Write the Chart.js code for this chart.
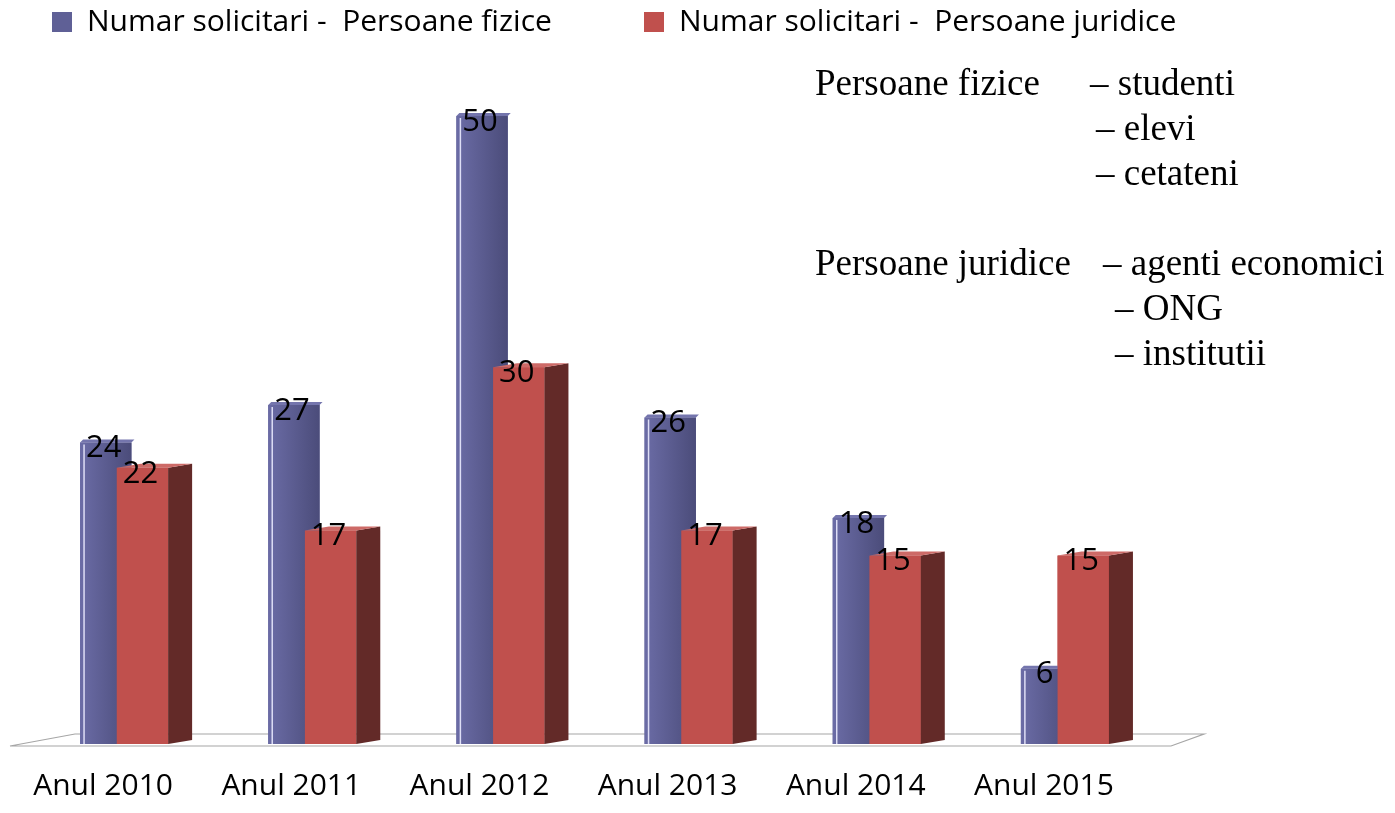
<!DOCTYPE html>
<html>
<head>
<meta charset="utf-8">
<script src="https://cdn.jsdelivr.net/npm/chart.js@4.4.0/dist/chart.umd.min.js"></script>
<style>
  html, body { margin: 0; padding: 0; background: #fff; }
  #wrap { position: relative; width: 1395px; height: 813px; }
  .note { position: absolute; font-family: "Liberation Serif", "Times New Roman", serif; font-size: 37px; line-height: 45px; color: #000; white-space: pre; }
</style>
</head>
<body>
<div id="wrap">
  <canvas id="chart" width="1395" height="813"></canvas>
  <div class="note" style="left:815px; top:60px;">Persoane fizice</div>
  <div class="note" style="left:1090px; top:60px;">– studenti</div>
  <div class="note" style="left:1096px; top:105px;">– elevi</div>
  <div class="note" style="left:1096px; top:150px;">– cetateni</div>
  <div class="note" style="left:815px; top:240px;">Persoane juridice</div>
  <div class="note" style="left:1103px; top:240px;">– agenti economici</div>
  <div class="note" style="left:1115px; top:285px;">– ONG</div>
  <div class="note" style="left:1115px; top:330px;">– institutii</div>
</div>
<script>
const years = ["Anul 2010", "Anul 2011", "Anul 2012", "Anul 2013", "Anul 2014", "Anul 2015"];
const fizice = [24, 27, 50, 26, 18, 6];
const juridice = [22, 17, 30, 17, 15, 15];
const seriesNames = ["Numar solicitari -  Persoane fizice", "Numar solicitari -  Persoane juridice"];

const FONT = "'Open Sans', 'Noto Sans', sans-serif";
const DX = 24, DY = -4;

// fake 3D look: floor, gradient fronts, side/top faces, value labels.
// red bars are repainted last so they sit in front of the blue ones
const bars3d = {
  id: "bars3d",
  beforeDatasetsDraw(chart) {
    const { ctx, chartArea } = chart;
    const base = chart.scales.y.getPixelForValue(0);
    const l = chartArea.left, r = chartArea.right;
    ctx.save();
    ctx.strokeStyle = "#a6a6a6";
    ctx.lineWidth = 1.2;
    ctx.beginPath();
    ctx.moveTo(l - 20, base + 2);
    ctx.lineTo(r + 12, base + 2);
    ctx.lineTo(r + 45, base - 10);
    ctx.lineTo(l + 45, base - 10);
    ctx.closePath();
    ctx.stroke();
    ctx.restore();
  },
  afterDatasetsDraw(chart) {
    const { ctx } = chart;
    ctx.save();
    chart.getDatasetMeta(0).data.forEach(bar => {
      const { x, y, base, width } = bar.getProps(["x", "y", "base", "width"]);
      const l = x - width / 2, r = x + width / 2;
      const g = ctx.createLinearGradient(l, 0, r, 0);
      g.addColorStop(0, "#6b6ca6");
      g.addColorStop(1, "#4b4c7a");
      ctx.fillStyle = g;
      ctx.fillRect(l, y, width, base - y);
      ctx.strokeStyle = "rgba(235,235,255,0.9)";
      ctx.lineWidth = 1.5;
      ctx.beginPath();
      ctx.moveTo(l + 4, y + 2);
      ctx.lineTo(l + 4, base);
      ctx.stroke();
      ctx.fillStyle = "#7475ad";
      ctx.beginPath();
      ctx.moveTo(l, y);
      ctx.lineTo(r, y);
      ctx.lineTo(r + 3, y - 3);
      ctx.lineTo(l + 3, y - 3);
      ctx.closePath();
      ctx.fill();
    });
    chart.getDatasetMeta(1).data.forEach(bar => {
      const { x, y, base, width } = bar.getProps(["x", "y", "base", "width"]);
      const l = x - width / 2, r = x + width / 2;
      ctx.fillStyle = "#c0504d";
      ctx.fillRect(l, y, width, base - y);
      ctx.fillStyle = "#632a28";
      ctx.beginPath();
      ctx.moveTo(r, y);
      ctx.lineTo(r + DX, y + DY);
      ctx.lineTo(r + DX, base + DY);
      ctx.lineTo(r, base);
      ctx.closePath();
      ctx.fill();
      ctx.fillStyle = "#cd6a67";
      ctx.beginPath();
      ctx.moveTo(l, y);
      ctx.lineTo(r, y);
      ctx.lineTo(r + DX, y + DY);
      ctx.lineTo(l + DX, y + DY);
      ctx.closePath();
      ctx.fill();
    });

    ctx.fillStyle = "#000";
    ctx.font = "31px " + FONT;
    ctx.textAlign = "center";
    ctx.textBaseline = "middle";
    chart.data.datasets.forEach((ds, di) => {
      chart.getDatasetMeta(di).data.forEach((bar, i) => {
        const { x, y } = bar.getProps(["x", "y"]);
        ctx.fillText(String(ds.data[i]), x - 2, y + 6);
      });
    });
    ctx.restore();
  }
};

new Chart(document.getElementById("chart"), {
  type: "bar",
  data: {
    labels: years,
    datasets: [
      { label: seriesNames[0], data: fizice, backgroundColor: "#5f6096", barPercentage: 1.4, categoryPercentage: 0.39 },
      { label: seriesNames[1], data: juridice, backgroundColor: "#c0504d", barPercentage: 1.4, categoryPercentage: 0.39 }
    ]
  },
  options: {
    responsive: false,
    animation: false,
    layout: { padding: { left: 30, right: 20, top: -15, bottom: -15 } },
    plugins: {
      tooltip: { enabled: false },
      legend: {
        align: "start",
        labels: {
          boxWidth: 20,
          boxHeight: 20,
          padding: 22,
          color: "#000",
          font: { family: FONT, size: 30 },
          generateLabels(chart) {
            const items = Chart.defaults.plugins.legend.labels.generateLabels(chart);
            // widen the gap between the two legend entries
            items.forEach((it, i) => { if (i < items.length - 1) it.text += "         "; });
            return items;
          }
        }
      }
    },
    scales: {
      x: {
        grid: { display: false, drawTicks: false },
        border: { display: false },
        ticks: { color: "#000", font: { family: FONT, size: 30 }, padding: 24, labelOffset: -21 }
      },
      y: { display: false, min: 0, max: 55.5 },
      // empty right-hand axis that keeps space free for the notes
      yNotes: {
        position: "right",
        min: 0, max: 1,
        grid: { display: false },
        border: { display: false },
        ticks: { display: false },
        afterFit(scale) { scale.width = 216; }
      }
    }
  },
  plugins: [bars3d]
});
</script>
</body>
</html>
